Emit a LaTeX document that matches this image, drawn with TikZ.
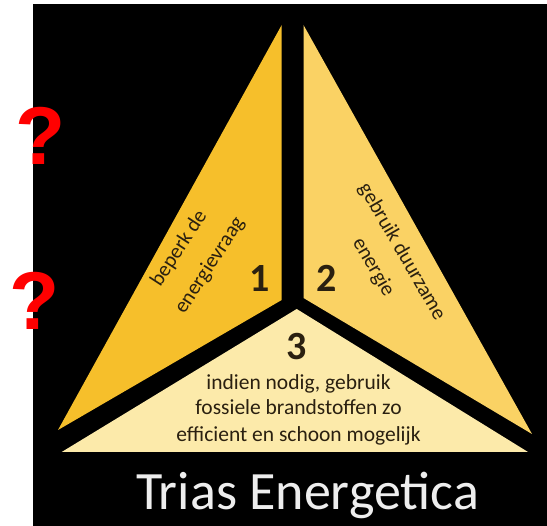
\documentclass[tikz,border=0pt]{standalone}
\usepackage{fontspec}
\setmainfont{Carlito}
\newfontfamily\qfont{Liberation Sans}
\definecolor{pieceA}{HTML}{F6BF2B}
\definecolor{pieceB}{HTML}{FAD264}
\definecolor{pieceC}{HTML}{FCEAAA}
\definecolor{txtdark}{HTML}{2A2010}
\definecolor{titlewhite}{HTML}{EEEEEE}
\tikzset{
  slanted/.style={text=txtdark, inner sep=0pt, font=\fontsize{21}{26}\selectfont},
  bottomline/.style={anchor=base, text=txtdark, inner sep=0pt, font=\fontsize{21.5}{26}\selectfont},
  bignum/.style={text=txtdark, inner sep=0pt, font=\bfseries\fontsize{40}{40}\selectfont},
  qmark/.style={text=red, inner sep=0pt, font=\qfont\bfseries\fontsize{82}{82}\selectfont}
}
\begin{document}
\begin{tikzpicture}[x=1pt,y=-1pt]
\useasboundingbox (0,0) rectangle (547,526);
\fill[white] (0,0) rectangle (547,526);
\fill[black] (32.7,4) rectangle (547,526);
\fill[pieceA] (281.7,25) -- (281.7,300) -- (58,430) -- cycle;
\fill[pieceB] (303.5,25) -- (303.5,298) -- (532,434) -- cycle;
\fill[pieceC] (296.7,309) -- (528,452) -- (61.7,452) -- cycle;
\node[slanted, rotate=57] (t1a) at (179.2,248.4) {beperk de};
\node[slanted, rotate=57] (t1b) at (210,265.6) {energievraag};
\node[slanted, rotate=-60] (t2a) at (401.8,251.8) {gebruik duurzame};
\node[slanted, rotate=-60] (t2b) at (373.2,267.3) {energie};
\node[bignum] (n1) at (259.3,278.3) {1};
\node[bignum] (n2) at (326.7,278.3) {2};
\node[bignum] (n3) at (296.7,346.7) {3};
\node[bottomline] (b1) at (298.5,389.3) {indien nodig, gebruik};
\node[bottomline] (b2) at (298.5,415) {fossiele brandstoffen zo};
\node[bottomline] (b3) at (298.5,441.5) {efficient en schoon mogelijk};
\node[anchor=base, text=titlewhite, inner sep=0pt, font=\fontsize{54}{60}\selectfont] (title) at (307.5,510) {Trias Energetica};
\node[qmark] (q1) at (40.8,136) {?};
\node[qmark] (q2) at (34.3,301) {?};
\end{tikzpicture}
\end{document}
